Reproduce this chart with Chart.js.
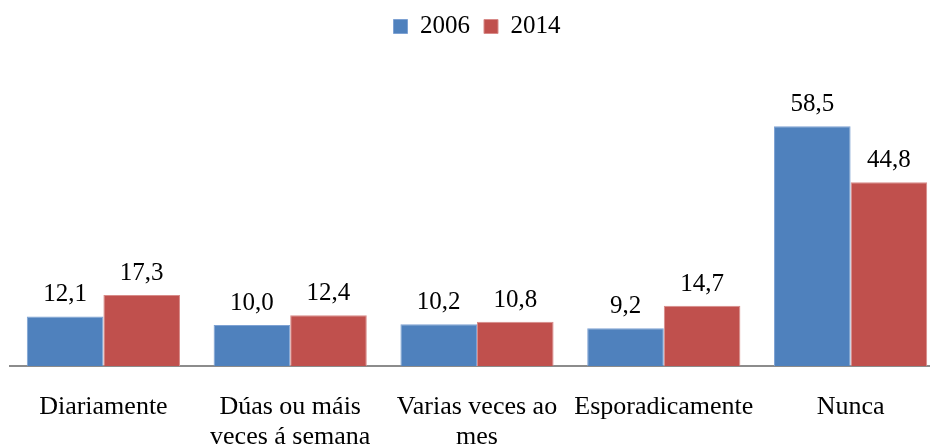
<!DOCTYPE html>
<html>
<head>
<meta charset="utf-8">
<script src="https://cdn.jsdelivr.net/npm/chart.js@4"></script>
<style>
  html, body { margin: 0; padding: 0; background: #fff; overflow: hidden; }
  #wrap { width: 944px; height: 486px; }
</style>
</head>
<body>
<div id="wrap"><canvas id="chart"></canvas></div>
<script>
//////////////////////////////////////////////////
// Data

const categories = [
  'Diariamente',
  ['Dúas ou máis', 'veces á semana'],
  ['Varias veces ao', 'mes'],
  'Esporadicamente',
  'Nunca'
]
const values2006 = [12.1, 10.0, 10.2, 9.2, 58.5]
const values2014 = [17.3, 12.4, 10.8, 14.7, 44.8]

const FONT = 'Liberation Serif, Times New Roman, serif'

//////////////////////////////////////////////////
// Plugins

// Value labels above each bar, comma decimals
const valueLabels = {
  id: 'valueLabels',
  afterDatasetsDraw (chart) {
    const { ctx } = chart
    ctx.save()
    ctx.font = `25px ${FONT}`
    ctx.fillStyle = '#000'
    ctx.textAlign = 'center'
    ctx.textBaseline = 'bottom'
    chart.data.datasets.forEach((ds, i) => {
      chart.getDatasetMeta(i).data.forEach((bar, j) => {
        const text = ds.data[j].toFixed(1).replace('.', ',')
        ctx.fillText(text, bar.x, bar.y - 9)
      })
    })
    ctx.restore()
  }
}

// Give the legend a fixed height so the plot starts lower
const legendHeight = {
  id: 'legendHeight',
  beforeInit (chart) {
    const fit = chart.legend.fit
    chart.legend.fit = function () {
      fit.bind(chart.legend)()
      this.height = 79
    }
  }
}

//////////////////////////////////////////////////
// Chart

new Chart(document.getElementById('chart'), {
  type: 'bar',
  plugins: [valueLabels, legendHeight],
  data: {
    labels: categories,
    datasets: [
      {
        label: '2006',
        data: values2006,
        backgroundColor: '#4F81BD',
        borderColor: '#7EA2D3',
        borderWidth: 1
      },
      {
        label: '2014',
        data: values2014,
        backgroundColor: '#C0504D',
        borderColor: '#D88B89',
        borderWidth: 1
      }
    ]
  },
  options: {
    responsive: true,
    maintainAspectRatio: false,
    animation: false,
    categoryPercentage: 0.82,
    barPercentage: 1,
    layout: {
      padding: { left: 10, right: 0, top: 0, bottom: 8 }
    },
    plugins: {
      legend: {
        position: 'top',
        labels: {
          color: '#000',
          font: { family: FONT, size: 25 },
          boxWidth: 14,
          boxHeight: 14,
          padding: 14
        }
      },
      tooltip: { enabled: false }
    },
    scales: {
      x: {
        grid: { display: false, drawTicks: false },
        border: { display: true, color: '#8C8C8C', width: 2 },
        ticks: {
          color: '#000',
          font: { family: FONT, size: 26, lineHeight: '30px' },
          padding: 26,
          maxRotation: 0,
          autoSkip: false
        }
      },
      y: {
        display: false,
        min: 0,
        max: 70
      }
    }
  }
})
</script>
</body>
</html>
